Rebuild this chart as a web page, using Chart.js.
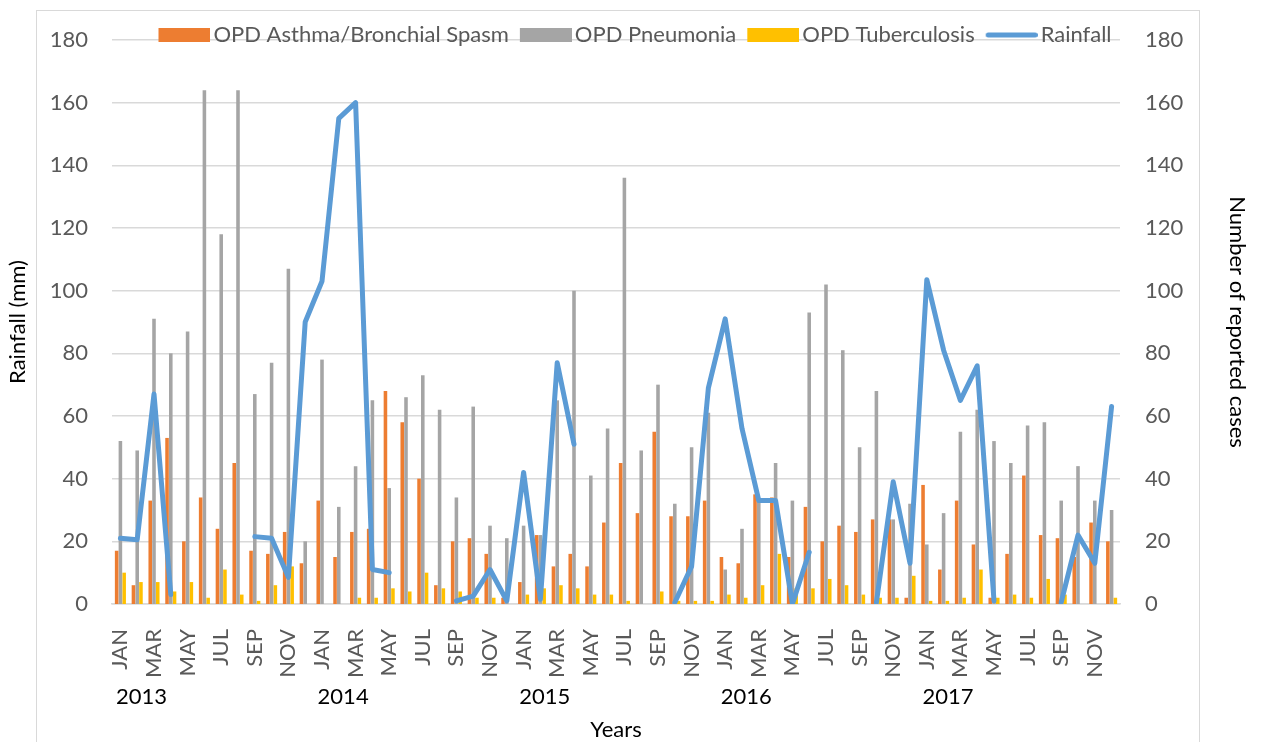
<!DOCTYPE html>
<html>
<head>
<meta charset="utf-8">
<script src="https://cdn.jsdelivr.net/npm/chart.js@4.4.0/dist/chart.umd.min.js"></script>
<style>
  html, body { margin: 0; padding: 0; background: #fff; }
  #wrap { width: 1262px; height: 742px; position: relative; }
</style>
</head>
<body>
<div id="wrap"><canvas id="chart"></canvas></div>
<script>
// months 2013 - 2017
const months = ['JAN', 'FEB', 'MAR', 'APR', 'MAY', 'JUN', 'JUL', 'AUG', 'SEP', 'OCT', 'NOV', 'DEC'];
const years = ['2013', '2014', '2015', '2016', '2017'];
const yTicks = [0, 20, 40, 60, 80, 100, 120, 140, 160, 180];

const asthma = [
  17, 6, 33, 53, 20, 34, 24, 45, 17, 16, 23, 13,
  33, 15, 23, 24, 68, 58, 40, 6, 20, 21, 16, 2,
  7, 22, 12, 16, 12, 26, 45, 29, 55, 28, 28, 33,
  15, 13, 35, 34, 15, 31, 20, 25, 23, 27, 27, 2,
  38, 11, 33, 19, 2, 16, 41, 22, 21, 15, 26, 20
];
const pneumonia = [
  52, 49, 91, 80, 87, 164, 118, 164, 67, 77, 107, 20,
  78, 31, 44, 65, 37, 66, 73, 62, 34, 63, 25, 21,
  25, 22, 65, 100, 41, 56, 136, 49, 70, 32, 50, 61,
  11, 24, 33, 45, 33, 93, 102, 81, 50, 68, 27, 32,
  19, 29, 55, 62, 52, 45, 57, 58, 33, 44, 33, 30
];
const tuberculosis = [
  10, 7, 7, 4, 7, 2, 11, 3, 1, 6, 12, 0,
  0, 0, 2, 2, 5, 4, 10, 5, 4, 2, 2, 0,
  3, 5, 6, 5, 3, 3, 1, 0, 4, 1, 1, 1,
  3, 2, 6, 16, 5, 5, 8, 6, 3, 2, 2, 9,
  1, 1, 2, 11, 2, 3, 2, 8, 3, 0, 0, 2
];
const rainfall = [
  21, 20.5, 67, 3, null, null, null, null, 21.5, 21, 8.5, 90,
  103, 155, 160, 11, 10, null, null, null, 1, 2.5, 11, 1,
  42, 1.5, 77, 51, null, null, null, null, null, 0.5, 12, 69,
  91, 56, 33, 33, 0, 16.5, null, null, null, 0.5, 39, 13,
  103.5, 81, 65, 76, 1, null, null, null, 0.5, 22, 13, 63
];

const labels = [];
years.forEach(y => months.forEach(m => labels.push(m)));

const FONT = 'Lato';
const tickColor = '#595959';
const colors = ['#ED7D31', '#A5A5A5', '#FFC000', '#5B9BD5'];

// legend icons: the coloured key sits in the right part so the text hugs it
function legendIcon(color, isLine) {
  const c = document.createElement('canvas');
  c.width = 60; c.height = 14;
  const g = c.getContext('2d');
  if (isLine) {
    g.strokeStyle = color; g.lineWidth = 5; g.lineCap = 'round';
    g.beginPath(); g.moveTo(10.5, 7); g.lineTo(57.5, 7); g.stroke();
  } else {
    g.fillStyle = color; g.fillRect(8, 0, 52, 14);
  }
  return c;
}
const icons = colors.map((c, i) => legendIcon(c, i === 3));

// light frame round the chart, like the Excel chart area
const frame = {
  id: 'frame',
  beforeDraw(chart) {
    const ctx = chart.ctx;
    ctx.save();
    ctx.strokeStyle = '#d9d9d9';
    ctx.lineWidth = 1;
    ctx.strokeRect(36.5, 10.5, 1163, 760);
    ctx.restore();
  }
};

// year row under the month labels
const yearRow = {
  id: 'yearRow',
  afterDraw(chart) {
    const ctx = chart.ctx;
    const x = chart.scales.x;
    const step = x.width / labels.length;
    ctx.save();
    ctx.font = '22px ' + FONT;
    ctx.fillStyle = '#000';
    ctx.textBaseline = 'middle';
    ctx.textAlign = 'left';
    years.forEach((y, i) => {
      ctx.fillText(y, x.getPixelForValue(i * 12) - step / 2 + 4, 697);
    });
    ctx.restore();
  }
};

// move the legend down so it sits on the top gridline
const legendShift = {
  id: 'legendShift',
  afterLayout(chart) {
    const lg = chart.legend;
    lg.top += 16; lg.bottom += 16;
    lg.left += 4; lg.right += 4;
  }
};

new Chart(document.getElementById('chart'), {
  type: 'bar',
  data: {
    labels: labels,
    datasets: [
      { label: 'OPD Asthma/Bronchial Spasm', data: asthma, backgroundColor: colors[0], yAxisID: 'y1', order: 1 },
      { label: 'OPD Pneumonia', data: pneumonia, backgroundColor: colors[1], yAxisID: 'y1', order: 1 },
      { label: 'OPD Tuberculosis', data: tuberculosis, backgroundColor: colors[2], yAxisID: 'y1', order: 1 },
      {
        type: 'line', label: 'Rainfall', data: rainfall, yAxisID: 'y', order: 0,
        borderColor: colors[3], backgroundColor: colors[3], borderWidth: 5,
        borderCapStyle: 'round', borderJoinStyle: 'round',
        pointRadius: 0, pointHoverRadius: 0,
        spanGaps: false, tension: 0
      }
    ]
  },
  options: {
    responsive: true,
    maintainAspectRatio: false,
    animation: false,
    layout: { padding: { top: -3, left: 0, right: 0, bottom: 0 } },
    datasets: {
      bar: { categoryPercentage: 0.67, barPercentage: 0.95 }
    },
    plugins: {
      tooltip: { enabled: false },
      legend: {
        position: 'top',
        labels: {
          usePointStyle: true,
          pointStyleWidth: 44,
          boxHeight: 14,
          padding: 11,
          color: tickColor,
          font: { family: FONT, size: 22 },
          sort: (a, b) => a.datasetIndex - b.datasetIndex,
          generateLabels(chart) {
            const items = Chart.defaults.plugins.legend.labels.generateLabels(chart);
            items.forEach(it => { it.pointStyle = icons[it.datasetIndex]; });
            return items;
          }
        }
      }
    },
    scales: {
      x: {
        grid: { display: false },
        border: { color: '#d9d9d9', width: 1.5 },
        ticks: {
          autoSkip: false, minRotation: 90, maxRotation: 90,
          padding: 17, color: tickColor,
          font: { family: FONT, size: 22 },
          callback: (v, i) => (i % 2 === 0 ? labels[i] : '')
        },
        title: {
          display: true, text: 'Years', color: '#000',
          font: { family: FONT, size: 22, lineHeight: 1 },
          padding: { top: 0, bottom: 1 }
        },
        afterFit(s) { s.height = 138; }
      },
      y: {
        position: 'left', min: 0, max: 180,
        afterBuildTicks(s) { s.ticks = yTicks.map(v => ({ value: v })); },
        grid: { color: '#d9d9d9', lineWidth: 1.5, drawTicks: false },
        border: { display: false },
        ticks: { padding: 24, color: tickColor, font: { family: FONT, size: 22 } },
        title: {
          display: true, text: 'Rainfall (mm)', color: '#000',
          font: { family: FONT, size: 22 },
          padding: { top: 5, bottom: 0 }
        },
        afterFit(s) { s.width = 112; }
      },
      y1: {
        position: 'right', min: 0, max: 180,
        afterBuildTicks(s) { s.ticks = yTicks.map(v => ({ value: v })); },
        grid: { display: false, drawTicks: false },
        border: { display: false },
        ticks: { padding: 25, color: tickColor, font: { family: FONT, size: 22 } },
        title: {
          display: true, text: 'Number of reported cases', color: '#000',
          font: { family: FONT, size: 22 },
          padding: { top: 12, bottom: 0 }
        },
        afterFit(s) { s.width = 142; }
      }
    }
  },
  plugins: [frame, yearRow, legendShift]
});
</script>
</body>
</html>
